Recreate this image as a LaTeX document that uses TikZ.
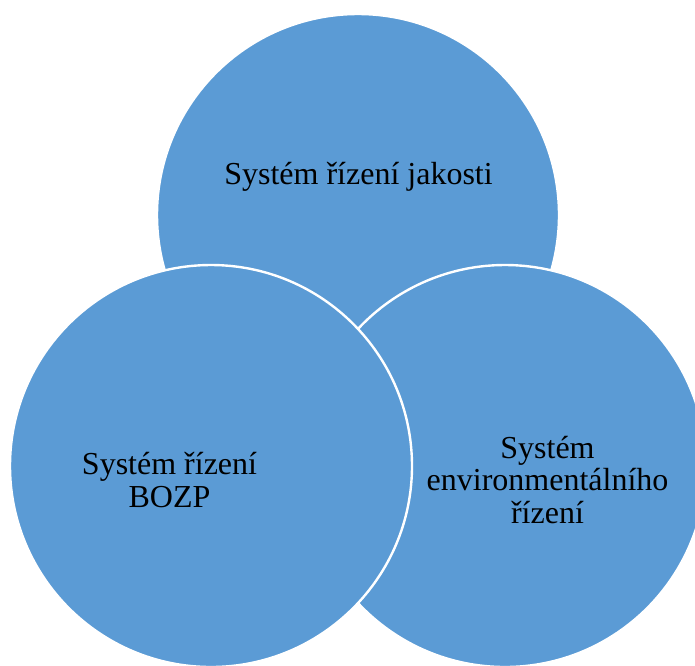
\documentclass[tikz,border=0pt]{standalone}
\usepackage{fontspec}
\setmainfont{Liberation Serif}
\definecolor{venn}{HTML}{5B9BD5}
\begin{document}
\begin{tikzpicture}[x=1pt,y=-1pt,
  disc/.style={circle,draw=white,line width=2.4pt,fill=venn,minimum size=402pt,inner sep=0pt},
  label/.style={align=center,font=\fontsize{32}{32.5}\selectfont,text=black,inner sep=0pt,anchor=base}]
\useasboundingbox (0,0) rectangle (695,665);
\node[disc] (top) at (358,215) {};
\node[disc] (right) at (505,466) {};
\node[disc] (left) at (211,466) {};
\node[label] (ttop) at (358.5,184) {Systém řízení jakosti};
\node[label] (tleft) at (169.5,507) {Systém řízení\\BOZP};
\node[label] (tright) at (547.5,523) {Systém\\environmentálního\\řízení};
\end{tikzpicture}
\end{document}
